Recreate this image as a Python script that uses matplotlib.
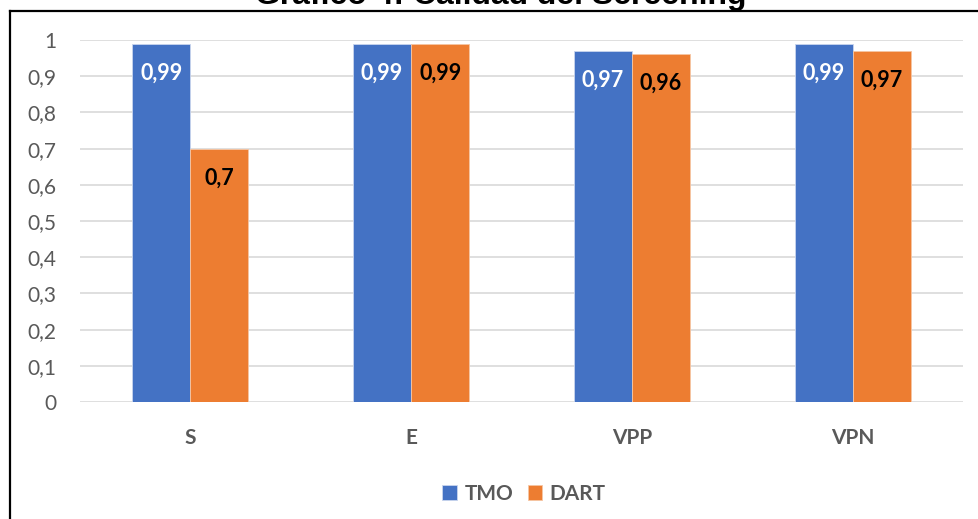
import numpy as np
import matplotlib.pyplot as plt
from matplotlib.lines import Line2D

# calidad del screening: TMO vs DART
categorias = ["S", "E", "VPP", "VPN"]
tmo = [0.99, 0.99, 0.97, 0.99]
dart = [0.70, 0.99, 0.96, 0.97]
ticks_y = [0, 0.1, 0.2, 0.3, 0.4, 0.5, 0.6, 0.7, 0.8, 0.9, 1]

AZUL = "#4472C4"
NARANJA = "#ED7D31"
GRIS = "#595959"

plt.rcParams['font.family'] = ['Lato', 'DejaVu Sans']

fig = plt.figure(figsize=(9.79, 5.19), dpi=100)
ax = fig.add_axes([80 / 979, 117 / 519, 883 / 979, 362 / 519])

x = np.arange(len(categorias))
ancho = 0.263
b1 = ax.bar(x - ancho / 2, tmo, ancho, color=AZUL, edgecolor="#c9d5ee", linewidth=0.6, zorder=3, label="TMO")
b2 = ax.bar(x + ancho / 2, dart, ancho, color=NARANJA, edgecolor="#f6c6a4", linewidth=0.6, zorder=3, label="DART")


def coma(v):
    return f"{v:g}".replace(".", ",")


# etiquetas dentro del extremo de cada barra
for barras, valores, col in ((b1, tmo, "white"), (b2, dart, "black")):
    for r, v in zip(barras, valores):
        ax.annotate(coma(v), (r.get_x() + r.get_width() / 2, v), xytext=(0, -21),
                    textcoords="offset points", ha="center", va="center",
                    fontsize=15.5, fontweight="bold", color=col, zorder=4)

ax.set_xlim(-0.5, len(categorias) - 0.5)
ax.set_ylim(0, 1)
ax.set_yticks(ticks_y)
ax.set_yticklabels([coma(t) for t in ticks_y], fontsize=15, color=GRIS)
ax.set_xticks(x)
ax.set_xticklabels(categorias, fontsize=15, fontweight="bold", color=GRIS)
ax.tick_params(axis="y", length=0, pad=17)
ax.tick_params(axis="x", length=0, pad=19)
ax.yaxis.grid(True, color="#d9d9d9", linewidth=1.2, zorder=0)
for s in ax.spines.values():
    s.set_visible(False)

ax.legend(loc="center", bbox_to_anchor=(524 / 979, 25 / 519), bbox_transform=fig.transFigure,
          ncol=2, frameon=False, handlelength=0.7, handleheight=0.7, handletextpad=0.35,
          columnspacing=0.7, prop={"size": 15, "weight": "bold"}, labelcolor=GRIS)

# titulo cortado arriba y marco del grafico
fig.text(501 / 979, 1 - 4 / 519, "Gráfico 4: Calidad del Screening", ha="center", va="baseline",
         fontsize=23, fontweight="bold", family="Liberation Sans")
fig.add_artist(Line2D([10 / 979, 10 / 979], [0, 1 - 11 / 519], transform=fig.transFigure,
                      color="black", linewidth=1.6))
fig.add_artist(Line2D([10 / 979, 1], [1 - 11 / 519, 1 - 11 / 519], transform=fig.transFigure,
                      color="black", linewidth=1.6))

fig.savefig("out.png", dpi=100)
